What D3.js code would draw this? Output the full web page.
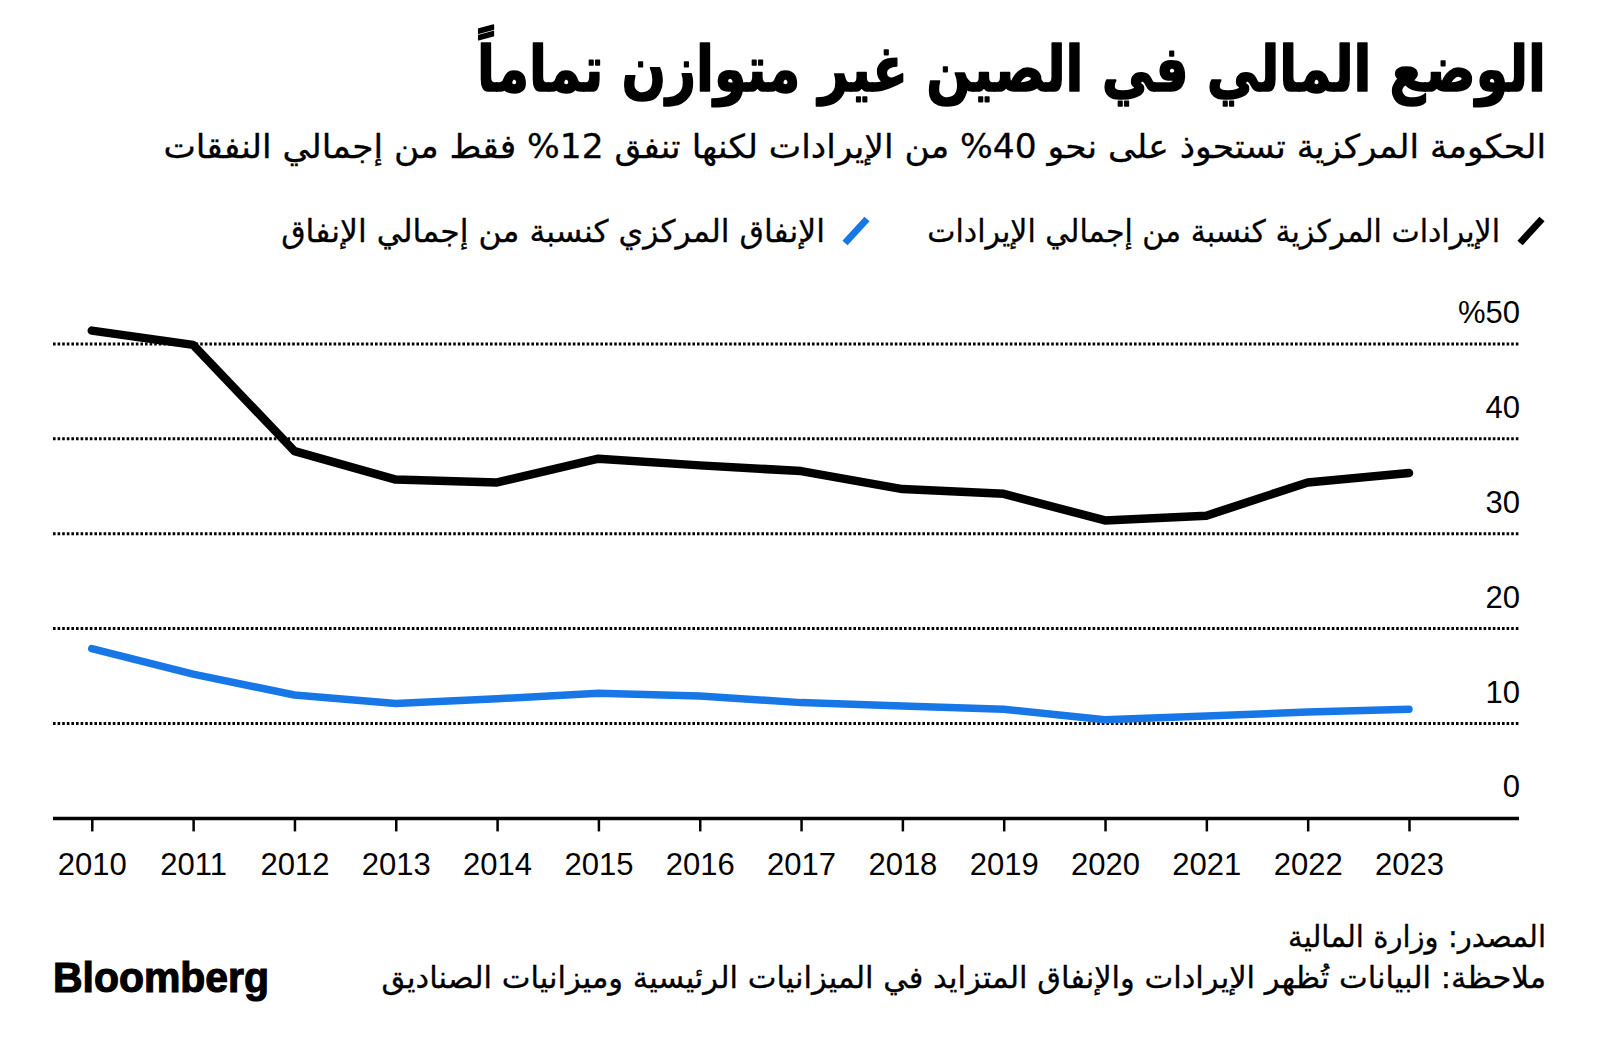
<!DOCTYPE html>
<html>
<head>
<meta charset="utf-8">
<script src="https://cdn.jsdelivr.net/npm/d3@7"></script>
<style>
  html, body { margin: 0; padding: 0; background: #ffffff; }
  svg { display: block; }
  .ar { font-family: "DejaVu Sans", "Noto Sans", sans-serif; }
  .num { font-family: "Liberation Sans", Arial, sans-serif; }
</style>
</head>
<body>
<svg id="chart" width="1600" height="1057"></svg>
<script>
// ---------- data ----------
const years = [2010, 2011, 2012, 2013, 2014, 2015, 2016, 2017, 2018, 2019, 2020, 2021, 2022, 2023];
const revenueShare = [51.4, 49.9, 38.7, 35.7, 35.4, 37.9, 37.2, 36.6, 34.7, 34.2, 31.4, 31.9, 35.4, 36.4];
const spendingShare = [17.9, 15.2, 13.0, 12.1, 12.6, 13.2, 12.9, 12.2, 11.85, 11.5, 10.4, 10.8, 11.2, 11.5];
const yTicks = [0, 10, 20, 30, 40, 50];
const yTickLabels = ["0", "10", "20", "30", "40", "%50"];
const seriesNames = ["الإيرادات المركزية كنسبة من إجمالي الإيرادات", "الإنفاق المركزي كنسبة من إجمالي الإنفاق"];
const seriesColors = ["#000000", "#1877e6"];
const titleText = "الوضع المالي في الصين غير متوازن تماماً";
const subtitleText = "الحكومة المركزية تستحوذ على نحو 40% من الإيرادات لكنها تنفق 12% فقط من إجمالي النفقات";
const sourceText = "المصدر: وزارة المالية";
const noteText = "ملاحظة: البيانات تُظهر الإيرادات والإنفاق المتزايد في الميزانيات الرئيسية وميزانيات الصناديق";

// ---------- layout ----------
const svg = d3.select("#chart");
const plotLeft = 53, plotRight = 1519;
const x = d3.scaleLinear().domain([2010, 2023]).range([91.8, 1409]);
const y = d3.scaleLinear().domain([0, 50]).range([818.4, 343.9]);

// helper: RTL text fitted horizontally between left and right edges
function rtlText(txt, right, left, baseline, size, weight, strokeW) {
  const g = svg.append("g").attr("transform", `translate(${right},${baseline})`);
  const t = g.append("text")
    .attr("class", "ar")
    .attr("direction", "rtl")
    .attr("text-anchor", "start")
    .attr("x", 0).attr("y", 0)
    .style("font-size", size + "px")
    .style("font-weight", weight || "normal")
    .attr("fill", "#000")
    .text(txt);
  if (strokeW) t.attr("stroke", "#000").attr("stroke-width", strokeW).attr("stroke-linejoin", "round");
  const bb = t.node().getBBox();
  const sx = (right - left) / bb.width;
  g.attr("transform", `translate(${right},${baseline}) scale(${sx},1)`);
  return t;
}

// title, subtitle
rtlText(titleText, 1546, 477, 91, 63, "bold", 1.6);
rtlText(subtitleText, 1546, 163, 158, 33, "normal", 0.3);

// legend
const legendItems = [
  { name: seriesNames[0], color: seriesColors[0], right: 1500, left: 927, ix: 1520 },
  { name: seriesNames[1], color: seriesColors[1], right: 825, left: 281, ix: 845 }
];
legendItems.forEach(d => {
  svg.append("line")
    .attr("x1", d.ix).attr("y1", 243).attr("x2", d.ix + 22).attr("y2", 219)
    .attr("stroke", d.color).attr("stroke-width", 7);
  rtlText(d.name, d.right, d.left, 242, 31, "normal", 0.3);
});

// gridlines
svg.append("g").selectAll("line")
  .data(yTicks.filter(v => v > 0))
  .join("line")
  .attr("x1", plotLeft).attr("x2", plotRight)
  .attr("y1", d => y(d)).attr("y2", d => y(d))
  .attr("stroke", "#000").attr("stroke-width", 3)
  .attr("stroke-dasharray", "2.6,2");

// y tick labels
svg.append("g").selectAll("text")
  .data(yTicks)
  .join("text")
  .attr("class", "num")
  .attr("x", 1520)
  .attr("y", d => y(d) - 21)
  .attr("text-anchor", "end")
  .style("font-size", "31px")
  .attr("fill", "#000")
  .text((d, i) => yTickLabels[i]);

// x axis
const xAxis = d3.axisBottom(x)
  .tickValues(years)
  .tickFormat(d3.format("d"))
  .tickSize(13)
  .tickPadding(22);
const axG = svg.append("g")
  .attr("transform", `translate(0,${y(0)})`)
  .call(xAxis);
axG.select(".domain").remove();
axG.selectAll(".tick line").attr("stroke", "#000").attr("stroke-width", 2.5);
axG.selectAll(".tick text")
  .attr("class", "num")
  .style("font-family", '"Liberation Sans", Arial, sans-serif')
  .style("font-size", "31px")
  .attr("fill", "#000");
svg.append("line")
  .attr("x1", plotLeft).attr("x2", plotRight)
  .attr("y1", y(0)).attr("y2", y(0))
  .attr("stroke", "#000").attr("stroke-width", 3.5);

// lines
const line = d3.line()
  .x((d, i) => x(years[i]))
  .y(d => y(d));
svg.append("path")
  .datum(spendingShare)
  .attr("d", line)
  .attr("fill", "none")
  .attr("stroke", seriesColors[1])
  .attr("stroke-width", 7.5)
  .attr("stroke-linejoin", "round")
  .attr("stroke-linecap", "round");
svg.append("path")
  .datum(revenueShare)
  .attr("d", line)
  .attr("fill", "none")
  .attr("stroke", seriesColors[0])
  .attr("stroke-width", 8.5)
  .attr("stroke-linejoin", "round")
  .attr("stroke-linecap", "round");

// footer
rtlText(sourceText, 1546, 1288, 947, 30, "normal", 0.3);
rtlText(noteText, 1546, 381, 988, 30, "normal", 0.3);

svg.append("text")
  .attr("x", 53).attr("y", 992)
  .style("font-family", '"Liberation Sans", Arial, sans-serif')
  .style("font-weight", "bold")
  .style("font-size", "43px")
  .attr("textLength", 216)
  .attr("lengthAdjust", "spacingAndGlyphs")
  .attr("fill", "#000")
  .attr("stroke", "#000")
  .attr("stroke-width", 1.2)
  .text("Bloomberg");
</script>
</body>
</html>
